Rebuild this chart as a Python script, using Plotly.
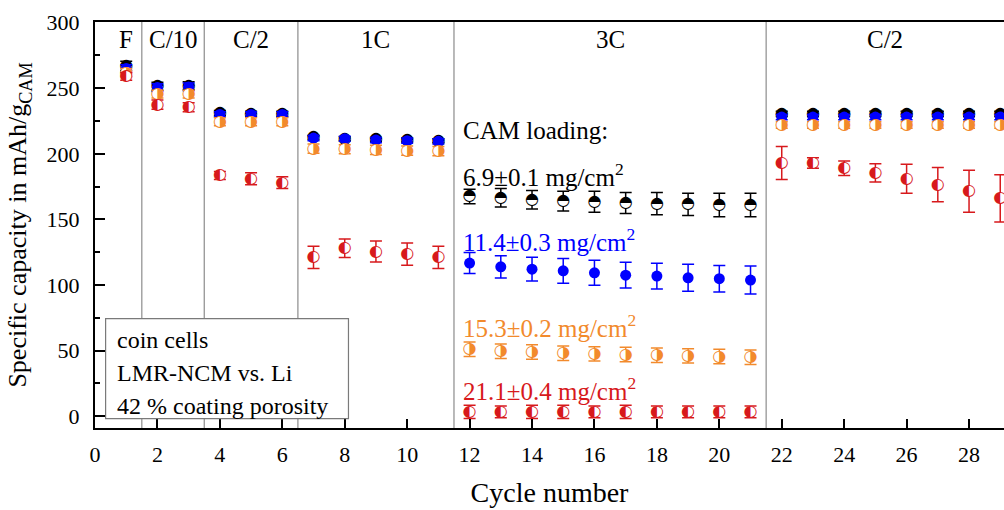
import plotly.graph_objects as go

# Cycle numbers and rate-step boundaries
cycles = list(range(1, 30))
step_bounds = [1.5, 3.5, 6.5, 11.5, 21.5]
step_labels = ["F", "C/10", "C/2", "1C", "3C", "C/2"]
step_centers = [1.0, 2.5, 5.0, 9.0, 16.5, 25.3]

# Specific capacity (mAh/g_CAM) and standard deviation per CAM loading
cap_6_9 = [267, 251.5, 252, 231, 230.5, 230.5, 212.5, 211.5, 211, 210.5, 210,
           167.5, 166.5, 165, 164, 163.5, 162.5, 162, 161.5, 161, 161,
           230.5, 230.5, 230.5, 230.5, 230.5, 230.5, 230.5, 230.5]
err_6_9 = [3.5, 3, 3, 2, 2, 2, 1.5, 1.5, 1.5, 1.5, 1.5,
           5.5, 7, 7, 7.5, 8, 8, 8.5, 8.5, 9, 9,
           2, 2, 2, 2, 2, 2, 2, 2]

cap_11_4 = [265, 250.5, 251, 230, 230, 230, 212, 211.5, 210.5, 210, 209.5,
            116.7, 113.9, 112.1, 110.8, 109.3, 107.5, 106.8, 105.5, 104.8, 103.8,
            228, 228, 228, 228, 228, 228, 228, 228]
err_11_4 = [3, 3, 3, 2, 2, 2, 2, 2, 2, 2, 2,
            8, 8.5, 9, 9.5, 9.5, 9.8, 9.8, 10.3, 10.1, 10.6,
            2, 2, 2, 2, 2, 2, 2, 2]

cap_15_3 = [262, 245.5, 245.5, 224.5, 224.5, 224.5, 204, 203.5, 203, 202.5, 202,
            51, 49.5, 49, 48, 47.5, 47, 46.5, 46, 45.5, 45,
            222, 222, 222, 222, 222, 222, 222, 222]
err_15_3 = [3, 3, 3, 3, 3, 3, 3.5, 3.5, 3.5, 3.5, 3.5,
            5.5, 5.5, 5.5, 5.5, 5.5, 5.5, 5.5, 5.5, 5.5, 5.5,
            2.5, 2.5, 2.5, 2.5, 2.5, 2.5, 2.5, 2.5]

cap_21_1 = [259, 237.5, 235.5, 183.5, 181, 178, 121, 128, 125.5, 123.5, 121,
            3.3, 3.3, 3.3, 3.3, 3.3, 3.3, 3.3, 3.3, 3.3, 3.3,
            193, 193, 189, 185.5, 181, 176.5, 171.5, 166]
err_21_1 = [3, 3.5, 3.5, 3, 4.5, 4.5, 8.5, 7, 8, 8.5, 8.5,
            5, 4.5, 5, 5, 4.5, 5, 4.5, 4.5, 4.5, 4.5,
            12.5, 4, 5.5, 7, 11, 13, 16, 18]

loading_labels = ["6.9±0.1 mg/cm<sup>2</sup>", "11.4±0.3 mg/cm<sup>2</sup>",
                  "15.3±0.2 mg/cm<sup>2</sup>", "21.1±0.4 mg/cm<sup>2</sup>"]
loading_label_y = [184, 134, 69, 21]

BLACK = "#000000"
BLUE = "#0000ff"
ORANGE = "#f28a2c"
RED = "#d7191c"
SERIF = "Liberation Serif"

fig = go.Figure()


def half_filled(x, y, err, color, glyph):
    # white disc carrying the error bars, then the half-filled glyph on top
    fig.add_trace(go.Scatter(
        x=x, y=y, mode="markers",
        marker=dict(symbol="circle", size=11, color="white", line=dict(width=0)),
        error_y=dict(type="data", array=err, color=color, thickness=1.5, width=6),
        showlegend=False, hoverinfo="skip"))
    fig.add_trace(go.Scatter(
        x=x, y=y, mode="text", text=[glyph] * len(x),
        textposition="middle center",
        textfont=dict(family="DejaVu Sans", size=16, color=color),
        showlegend=False, hoverinfo="skip"))


half_filled(cycles, cap_6_9, err_6_9, BLACK, "◓")
fig.add_trace(go.Scatter(
    x=cycles, y=cap_11_4, mode="markers",
    marker=dict(symbol="circle", size=11, color=BLUE, line=dict(width=0)),
    error_y=dict(type="data", array=err_11_4, color=BLUE, thickness=1.5, width=6),
    showlegend=False, hoverinfo="skip"))
half_filled(cycles, cap_15_3, err_15_3, ORANGE, "◑")
half_filled(cycles, cap_21_1, err_21_1, RED, "◐")

# rate-step separators
for xb in step_bounds:
    fig.add_shape(type="line", xref="x", yref="paper", x0=xb, x1=xb, y0=0, y1=1,
                  line=dict(color="#8c8c8c", width=1.2), layer="below")

for xc, lab in zip(step_centers, step_labels):
    fig.add_annotation(x=xc, y=287, xref="x", yref="y", text=lab, showarrow=False,
                       font=dict(family=SERIF, size=25, color="black"),
                       xanchor="center", yanchor="middle")

# CAM loading labels
fig.add_annotation(x=11.72, y=218, xref="x", yref="y", text="CAM loading:",
                   showarrow=False, font=dict(family=SERIF, size=25, color="black"),
                   xanchor="left", yanchor="middle")
for lab, ly, col in zip(loading_labels, loading_label_y, [BLACK, BLUE, ORANGE, RED]):
    fig.add_annotation(x=11.72, y=ly, xref="x", yref="y", text=lab, showarrow=False,
                       font=dict(family=SERIF, size=25, color=col),
                       xanchor="left", yanchor="middle")

# cell description box
fig.add_shape(type="rect", xref="x", yref="y", x0=0.34, x1=8.12, y0=-1.8, y1=74.4,
              line=dict(color="#7a7a7a", width=1.2), fillcolor="white", layer="above")
for txt, ty in zip(["coin cells", "LMR-NCM vs. Li", "42 % coating porosity"],
                   [58.4, 33.3, 8.1]):
    fig.add_annotation(x=0.63, y=ty, xref="x", yref="y", text=txt, showarrow=False,
                       font=dict(family=SERIF, size=24, color="black"),
                       xanchor="left", yanchor="middle")

fig.update_layout(
    width=1004, height=510,
    margin=dict(l=95, r=0, t=22, b=82),
    paper_bgcolor="white", plot_bgcolor="white",
    font=dict(family=SERIF, color="black"),
    showlegend=False,
)
fig.update_xaxes(
    range=[0, 29.12], tick0=0, dtick=2, ticks="inside", ticklen=9, tickwidth=2,
    tickcolor="black", showline=True, linewidth=2, linecolor="black", mirror=True,
    showgrid=False, zeroline=False, tickfont=dict(family=SERIF, size=22),
    ticklabelstandoff=6,
    title=dict(text="Cycle number", font=dict(family=SERIF, size=28), standoff=16),
)
fig.update_yaxes(
    range=[-9, 300.5], tick0=0, dtick=50, ticks="inside", ticklen=10, tickwidth=2,
    tickcolor="black", showline=True, linewidth=2, linecolor="black",
    showgrid=False, zeroline=False, tickfont=dict(family=SERIF, size=22),
    minor=dict(dtick=25, ticks="inside", ticklen=5, tickwidth=2, tickcolor="black"),
    ticklabelstandoff=9,
    title=dict(text="Specific capacity in mAh/g<sub>CAM</sub>",
               font=dict(family=SERIF, size=26), standoff=12),
)

fig.write_html("out.html")
